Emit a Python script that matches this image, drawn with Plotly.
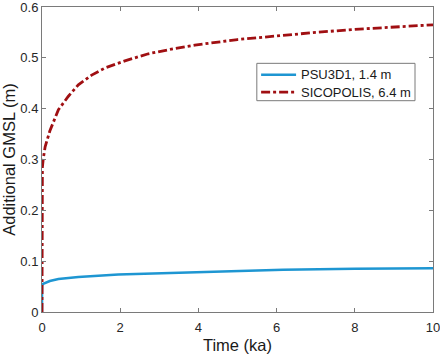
import plotly.graph_objects as go

# PSU3D1, 1.4 m
psu_t = [0, 0.001, 0.03, 0.2, 0.42, 0.93, 1.95, 2.77, 4, 5, 6.17, 8, 10]
psu_v = [0, 0.053, 0.0555, 0.061, 0.065, 0.069, 0.074, 0.076, 0.079, 0.081, 0.083, 0.085, 0.086]

# SICOPOLIS, 6.4 m
sico_t = [0, 0.001, 0.01, 0.03, 0.08, 0.2, 0.42, 0.67, 0.93, 1.27, 1.61, 2.12, 2.72, 3.31, 3.91, 5, 5.66, 7, 8, 9, 10]
sico_v = [0, 0.26, 0.285, 0.30, 0.325, 0.356, 0.398, 0.424, 0.447, 0.466, 0.480, 0.494, 0.508, 0.517, 0.525, 0.536, 0.541, 0.550, 0.556, 0.561, 0.565]

series_names = ["PSU3D1, 1.4 m", "SICOPOLIS, 6.4 m"]
series_colors = ["#1e96d2", "#a00f12"]

x_ticks = [0, 2, 4, 6, 8, 10]
y_ticks = [0, 0.1, 0.2, 0.3, 0.4, 0.5, 0.6]
y_tick_labels = ["0", "0.1", "0.2", "0.3", "0.4", "0.5", "0.6"]

font = "Liberation Sans, Arial, sans-serif"
axis_col = "#7a7a7a"
dash_red = "9px,3px,3px,3px"

fig = go.Figure()
fig.add_trace(go.Scatter(x=psu_t, y=psu_v, mode="lines", name=series_names[0],
                         line=dict(color=series_colors[0], width=2.5)))
fig.add_trace(go.Scatter(x=sico_t, y=sico_v, mode="lines", name=series_names[1],
                         line=dict(color=series_colors[1], width=2.8, dash=dash_red)))

axis_common = dict(showline=True, linecolor=axis_col, linewidth=1, mirror="ticks",
                   ticks="inside", ticklen=4, tickcolor=axis_col, showgrid=False,
                   zeroline=False, ticklabeloverflow="allow", automargin=False,
                   tickfont=dict(family=font, size=13, color="#262626"))

fig.update_layout(
    width=440, height=354,
    margin=dict(l=42, r=7, t=7, b=42),
    paper_bgcolor="white", plot_bgcolor="white",
    showlegend=False,
    xaxis=dict(range=[0, 10], tickvals=x_ticks, ticktext=[str(v) for v in x_ticks],
               ticklabelstandoff=3,
               title=dict(text="Time (ka)", font=dict(family=font, size=16.5, color="#1a1a1a"), standoff=7),
               **axis_common),
    yaxis=dict(range=[0, 0.6], tickvals=y_ticks, ticktext=y_tick_labels,
               title=dict(text="Additional GMSL (m)", font=dict(family=font, size=16.5, color="#1a1a1a"), standoff=6),
               **axis_common),
)

# legend box drawn in paper coordinates
lx0, lx1, ly0, ly1 = 0.5494, 0.954, 0.6928, 0.8153
fig.add_shape(type="rect", xref="paper", yref="paper", x0=lx0, x1=lx1, y0=ly0, y1=ly1,
              line=dict(color=axis_col, width=1), fillcolor="white", layer="above")
rows = [0.7775, 0.7208]
dashes = ["solid", dash_red]
widths = [2.5, 2.8]
for name, col, yy, d, w in zip(series_names, series_colors, rows, dashes, widths):
    fig.add_shape(type="line", xref="paper", yref="paper", x0=0.5604, x1=0.6498, y0=yy, y1=yy,
                  line=dict(color=col, width=w, dash=d), layer="above")
    fig.add_annotation(xref="paper", yref="paper", x=0.6575, y=yy, text=name, showarrow=False,
                       xanchor="left", yanchor="middle",
                       font=dict(family=font, size=13, color="#1a1a1a"))

fig.write_html("out.html", config={"displayModeBar": False},
               post_script="document.body.style.margin='0px';")
